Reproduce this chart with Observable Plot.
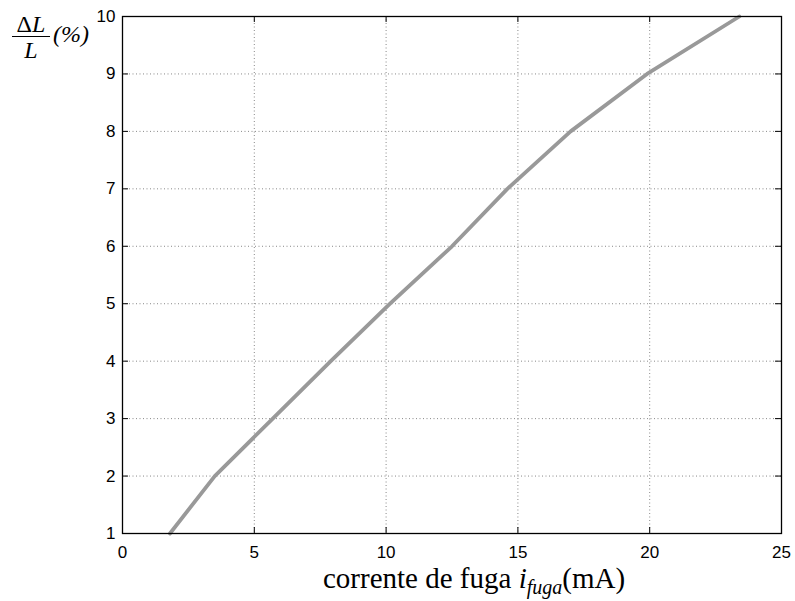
<!DOCTYPE html>
<html><head><meta charset="utf-8">
<script src="https://cdn.jsdelivr.net/npm/d3@7"></script>
<script src="https://cdn.jsdelivr.net/npm/@observablehq/plot@0.6"></script>
<style>html,body{margin:0;padding:0;background:#fff} svg{display:block}</style>
</head><body><div id="chart"></div>
<script>
// leakage current (mA) vs relative inductance change ΔL/L (%)
const currentMA = [1.8, 3.5, 5.7, 7.9, 10.15, 12.5, 14.6, 17.0, 19.9, 23.4];
const deltaLPct = [1, 2, 3, 4, 5, 6, 7, 8, 9, 10];
const xTicks = [0, 5, 10, 15, 20, 25];
const yTicks = [1, 2, 3, 4, 5, 6, 7, 8, 9, 10];
const xLabelText = "corrente de fuga ";
const xLabelVar = "i";
const xLabelSub = "fuga";
const xLabelUnit = "(mA)";

const W = 795, H = 601, mL = 122, mR = 14, mT = 16, mB = 68;
const iw = W - mL - mR, ih = H - mT - mB, tk = 6;
const data = currentMA.map((x, i) => ({x, y: deltaLPct[i]}));

const chart = Plot.plot({
  width: W, height: H,
  marginLeft: mL, marginRight: mR, marginTop: mT, marginBottom: mB,
  style: {fontFamily: '"Liberation Sans", Arial, sans-serif', fontSize: "17px", background: "#fff", color: "#000"},
  x: {domain: [0, 25], label: null},
  y: {domain: [1, 10], label: null},
  marks: [
    Plot.gridX(xTicks, {stroke: "#888", strokeOpacity: 1, strokeDasharray: "1,2.5"}),
    Plot.gridY(yTicks, {stroke: "#888", strokeOpacity: 1, strokeDasharray: "1,2.5"}),
    Plot.line(data, {x: "x", y: "y", stroke: "#999999", strokeWidth: 3.8}),
    Plot.tickX(xTicks, {x: d => d, insetTop: ih - tk, stroke: "#000"}),
    Plot.tickX(xTicks, {x: d => d, insetBottom: ih - tk, stroke: "#000"}),
    Plot.tickY(yTicks, {y: d => d, insetRight: iw - tk, stroke: "#000"}),
    Plot.tickY(yTicks, {y: d => d, insetLeft: iw - tk, stroke: "#000"}),
    Plot.frame({stroke: "#000", strokeWidth: 1.3}),
    Plot.axisX(xTicks, {tickSize: 0, tickPadding: 12, label: null, tickFormat: d => String(d)}),
    Plot.axisY(yTicks, {tickSize: 0, tickPadding: 7, label: null, tickFormat: d => String(d)})
  ]
});

const svg = d3.select(chart);
const serif = '"Liberation Serif", "Times New Roman", serif';
// x label
const xl = svg.append("text")
  .attr("x", 323).attr("y", 588).attr("text-anchor", "start")
  .attr("font-family", serif).attr("font-size", 29).attr("fill", "#000");
xl.append("tspan").text(xLabelText);
xl.append("tspan").attr("font-style", "italic").text(xLabelVar);
xl.append("tspan").attr("font-style", "italic").attr("font-size", 20).attr("dy", 6).text(xLabelSub);
xl.append("tspan").attr("dy", -6).text(xLabelUnit);

// y label: ΔL / L (%)
const yl = svg.append("g").attr("font-family", serif).attr("font-size", 24).attr("fill", "#000");
const num = yl.append("text").attr("x", 31).attr("y", 32).attr("text-anchor", "middle");
num.append("tspan").text("Δ");
num.append("tspan").attr("font-style", "italic").text("L");
yl.append("text").attr("x", 31).attr("y", 58).attr("text-anchor", "middle").attr("font-style", "italic").text("L");
yl.append("line").attr("x1", 12).attr("x2", 50).attr("y1", 36.5).attr("y2", 36.5).attr("stroke", "#000").attr("stroke-width", 1);
yl.append("text").attr("x", 53).attr("y", 42).attr("text-anchor", "start").attr("font-style", "italic").text("(%)");

document.getElementById("chart").appendChild(chart);
</script>
</body></html>
